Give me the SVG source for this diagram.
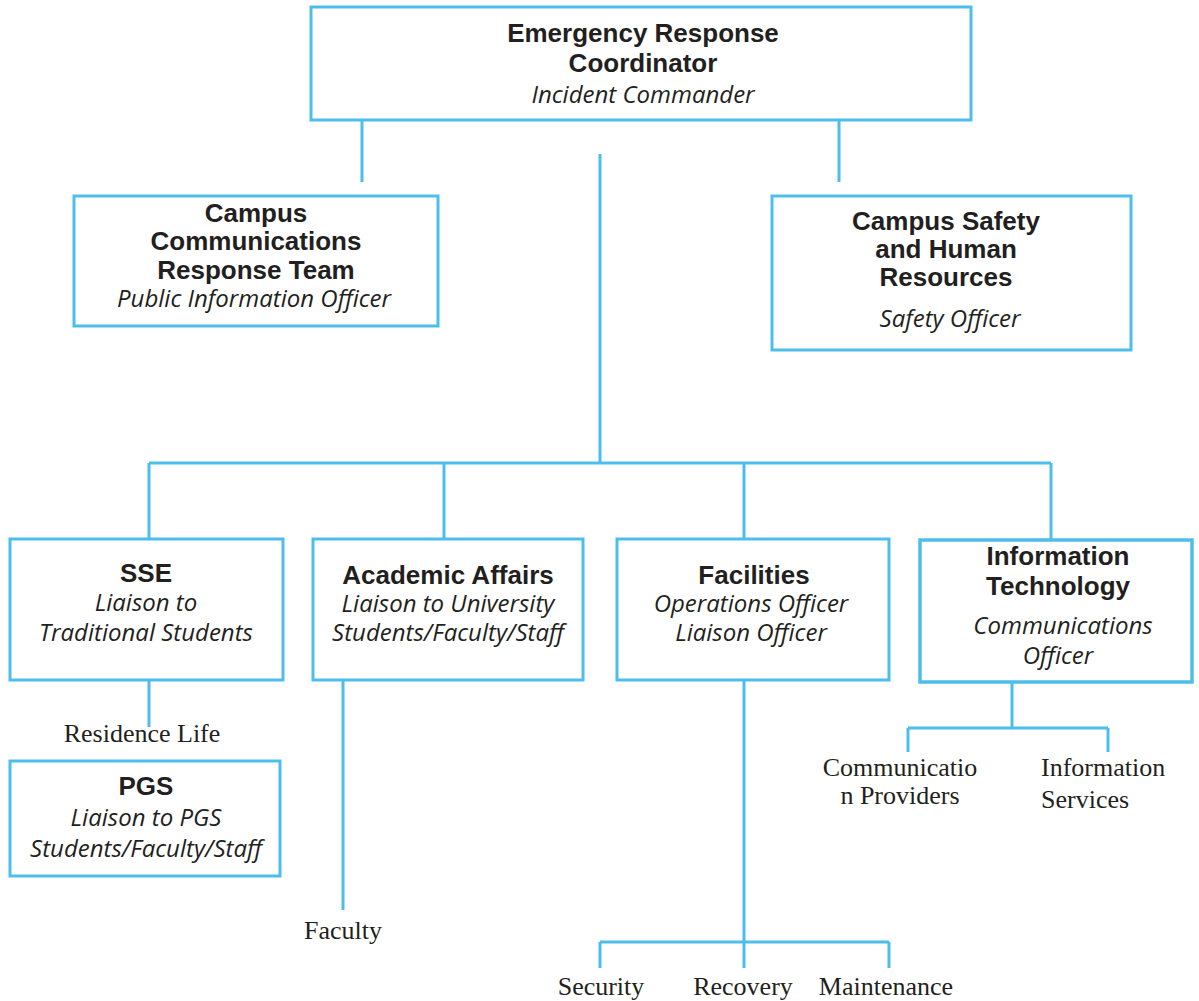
<svg xmlns="http://www.w3.org/2000/svg" width="1199" height="1001" viewBox="0 0 1199 1001">
<style>
.box{fill:#fff;stroke:#4DBEEB;stroke-width:3}
.ln{fill:none;stroke:#4DBEEB;stroke-width:3}
.t{font-family:"Liberation Sans",Arial,sans-serif;font-weight:bold;font-size:26px;fill:#231F20;text-anchor:middle}
.i{font-family:"Open Sans","Noto Sans",sans-serif;font-style:italic;font-size:24px;fill:#231F20;text-anchor:middle}
.s{font-family:"Liberation Serif","Times New Roman",serif;font-size:26px;fill:#231F20}
.m{text-anchor:middle}
</style>
<rect width="1199" height="1001" fill="#fff"/>
<g id="connectors">
<path class="ln" d="M362 110V182M839 107V182M600 154V463M149 463H1051M149 463V539M444 463V539M744 463V539M1051 463V540"/>
<path class="ln" d="M149 680V727M343 680V910M744 680V942M600 942H889M600 942V968M744 942V968M889 942V968"/>
<path class="ln" d="M1012 682V728M908 728H1108M908 728V752M1108 728V752"/>
</g>
<g id="n-erc">
<rect class="box" x="311" y="7" width="660" height="113"/>
<text class="t" x="643" y="42">Emergency Response</text>
<text class="t" x="643" y="72">Coordinator</text>
<text class="i" x="643" y="103">Incident Commander</text>
</g>
<g id="n-ccrt">
<rect class="box" x="74" y="196" width="364" height="130"/>
<text class="t" x="256" y="222">Campus</text>
<text class="t" x="256" y="250">Communications</text>
<text class="t" x="256" y="279">Response Team</text>
<text class="i" x="254" y="307">Public Information Officer</text>
</g>
<g id="n-cshr">
<rect class="box" x="772" y="196" width="359" height="154"/>
<text class="t" x="946" y="230">Campus Safety</text>
<text class="t" x="946" y="258">and Human</text>
<text class="t" x="946" y="286">Resources</text>
<text class="i" x="950" y="327">Safety Officer</text>
</g>
<g id="n-sse">
<rect class="box" x="10" y="539" width="273" height="141"/>
<text class="t" x="146" y="582">SSE</text>
<text class="i" x="146" y="611">Liaison to</text>
<text class="i" x="146" y="641">Traditional Students</text>
</g>
<g id="n-aa">
<rect class="box" x="313" y="539" width="270" height="141"/>
<text class="t" x="448" y="584">Academic Affairs</text>
<text class="i" x="448" y="612">Liaison to University</text>
<text class="i" x="448" y="641">Students/Faculty/Staff</text>
</g>
<g id="n-fac">
<rect class="box" x="617" y="539" width="272" height="141"/>
<text class="t" x="754" y="584">Facilities</text>
<text class="i" x="751" y="612">Operations Officer</text>
<text class="i" x="751" y="641">Liaison Officer</text>
</g>
<g id="n-it">
<rect class="box" x="920" y="540" width="272" height="142" style="stroke-width:3.5"/>
<text class="t" x="1058" y="565">Information</text>
<text class="t" x="1058" y="595">Technology</text>
<text class="i" x="1063" y="634">Communications</text>
<text class="i" x="1058" y="664">Officer</text>
</g>
<g id="n-pgs">
<rect class="box" x="10" y="761" width="270" height="115"/>
<text class="t" x="146" y="795">PGS</text>
<text class="i" x="146" y="826">Liaison to PGS</text>
<text class="i" x="146" y="857">Students/Faculty/Staff</text>
</g>
<g id="n-reslife"><text class="s m" x="142" y="742">Residence Life</text></g>
<g id="n-faculty"><text class="s m" x="343" y="939">Faculty</text></g>
<g id="n-security"><text class="s m" x="601" y="995">Security</text></g>
<g id="n-recovery"><text class="s m" x="743" y="995">Recovery</text></g>
<g id="n-maint"><text class="s m" x="886" y="995">Maintenance</text></g>
<g id="n-commprov">
<text class="s m" x="900" y="776">Communicatio</text>
<text class="s m" x="900" y="804">n Providers</text>
</g>
<g id="n-infoserv">
<text class="s" x="1041" y="776">Information</text>
<text class="s" x="1041" y="808">Services</text>
</g>
</svg>
